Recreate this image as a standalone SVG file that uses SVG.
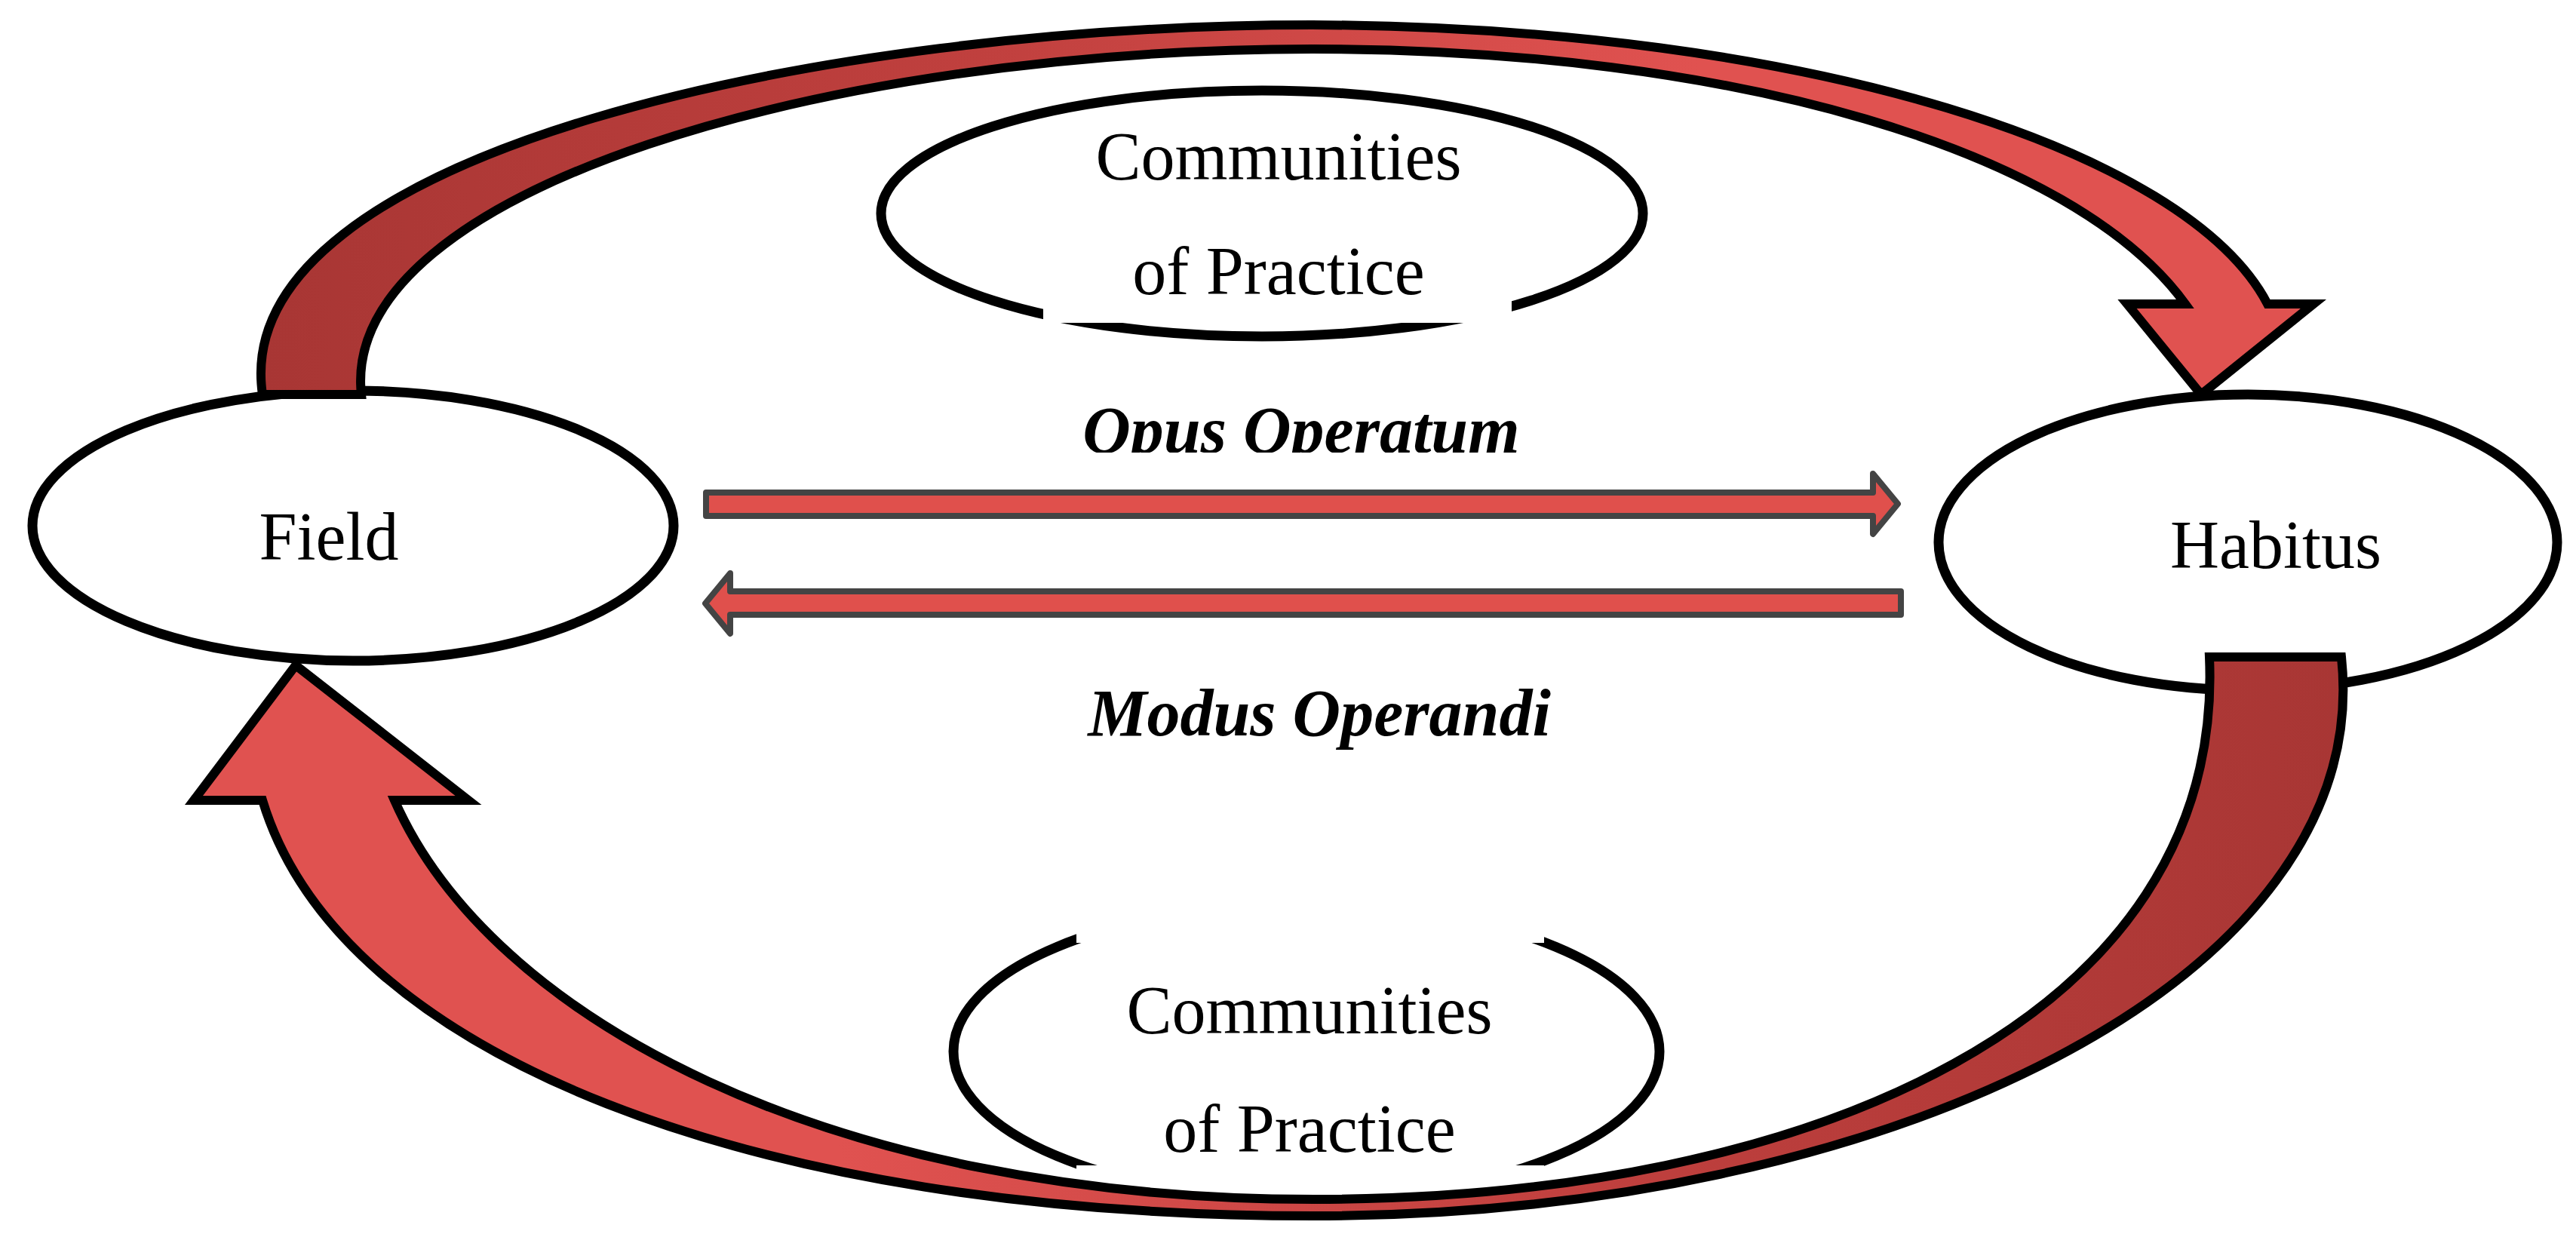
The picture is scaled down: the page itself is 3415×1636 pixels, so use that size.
<svg xmlns="http://www.w3.org/2000/svg" width="3415" height="1636" viewBox="0 0 3415 1636">
<style>
.n{fill:#fff;stroke:#000;stroke-width:13}
.t{font-family:"Liberation Serif",serif;font-size:90px;fill:#000;text-anchor:middle}
.b{font-weight:bold;font-style:italic;font-size:88px}
.a{fill:#e0504c;stroke:#444;stroke-width:8;stroke-linejoin:round}
.w{fill:#fff}
.big{stroke:#000;stroke-width:12;stroke-linejoin:miter}
</style>
<defs>
<linearGradient id="g1" x1="0" x2="1" y1="0" y2="0"><stop offset="0" stop-color="#a83634"/><stop offset="0.35" stop-color="#c0403e"/><stop offset="0.7" stop-color="#e05250"/></linearGradient>
<linearGradient id="g2" x1="1" x2="0" y1="0" y2="0"><stop offset="0" stop-color="#a83634"/><stop offset="0.35" stop-color="#c0403e"/><stop offset="0.7" stop-color="#e05250"/></linearGradient>
</defs>
<rect width="3415" height="1636" fill="#fff"/>
<g id="field"><ellipse class="n" cx="468" cy="697" rx="425" ry="179"/><text class="t" x="436" y="742">Field</text></g>
<g id="habitus"><ellipse class="n" cx="2980" cy="719" rx="410" ry="196"/><text class="t" x="3017" y="753">Habitus</text></g>
<g id="cop-top"><ellipse class="n" cx="1673" cy="283" rx="505" ry="163"/><rect class="w" x="1383" y="360" width="621" height="68"/><text class="t" x="1695" y="238">Communities</text><text class="t" x="1695" y="390">of Practice</text></g>
<g id="cop-bottom"><ellipse class="n" cx="1732" cy="1394" rx="468" ry="196"/><rect class="w" x="1427" y="1180" width="620" height="70"/><rect class="w" x="1427" y="1545" width="620" height="70"/><text class="t" x="1736" y="1370">Communities</text><text class="t" x="1736" y="1527">of Practice</text></g>
<g id="labels"><text class="t b" x="1725" y="600">Opus Operatum</text><rect class="w" x="1400" y="600" width="650" height="22"/><text class="t b" x="1749" y="975">Modus Operandi</text></g>
<g id="connectors">
<path class="big" fill="url(#g1)" d="M348,523 C300,200 1100,33 1740,33 C2400,36 2900,200 3006,403 L3067,403 L2918,523 L2820,403 L2897,403 C2750,200 2300,65 1740,65 C1100,65 450,250 479,523 Z"/>
<path class="big" fill="url(#g2)" d="M3104,871 C3150,1300 2500,1612 1742,1612 C1000,1612 450,1400 348,1061 L257,1061 L392,882 L621,1061 L523,1061 C650,1350 1100,1590 1742,1590 C2400,1590 2950,1350 2929,871 Z"/>
<path class="a" d="M936,653 L2483,653 L2483,628 L2516,668 L2483,708 L2483,684 L936,684 Z"/>
<path class="a" d="M2520,784 L968,784 L968,760 L935,800 L968,840 L968,815 L2520,815 Z"/>
</g>
</svg>
